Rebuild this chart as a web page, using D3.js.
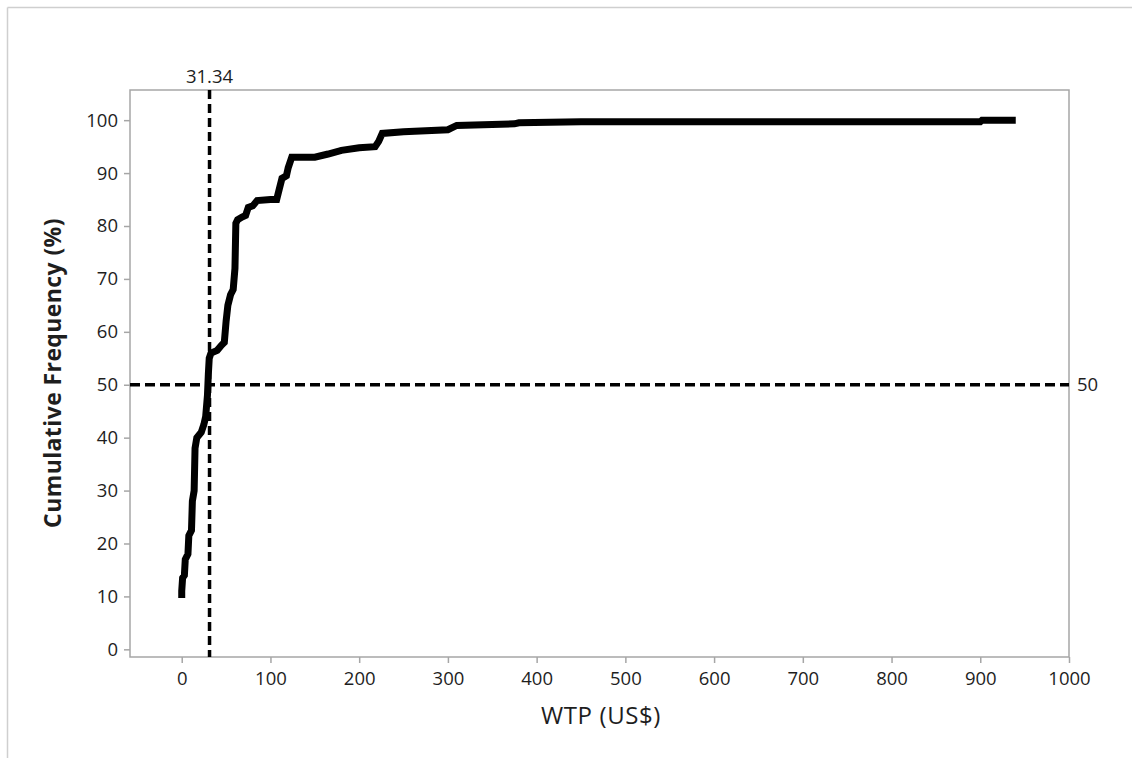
<!DOCTYPE html>
<html>
<head>
<meta charset="utf-8">
<script src="https://cdn.jsdelivr.net/npm/d3@7"></script>
<style>
  html, body { margin: 0; padding: 0; background: #fff; }
  svg { display: block; }
  text { font-family: "Open Sans", "Noto Sans", sans-serif; fill: #1e1e1e; }
</style>
</head>
<body>
<svg id="chart" width="1132" height="758"></svg>
<script>
// Empirical cumulative distribution of willingness to pay
const wtp = [0, 0, 1, 3, 4, 7, 8, 11, 12, 14, 15, 17, 22, 25, 27, 29, 30, 31, 33, 40, 45, 48,
  50, 52, 55, 58, 60, 61, 63, 68, 72, 75, 80, 85, 100, 107, 110, 113, 118, 120, 124, 150,
  165, 180, 200, 218, 222, 226, 250, 300, 310, 375, 380, 450, 900, 902, 940];
const cumFreq = [9.7, 11, 13.5, 14, 17, 18, 21.5, 22.5, 28, 30, 38, 40, 41, 42.5, 44, 48, 52, 55, 56, 56.5, 57.5, 58,
  62, 65, 67, 68, 72, 80.5, 81.2, 81.7, 82, 83.5, 83.8, 84.8, 85, 85, 87, 89, 89.5, 91, 93, 93,
  93.6, 94.3, 94.8, 95, 96, 97.5, 97.8, 98.2, 99, 99.3, 99.5, 99.7, 99.7, 100, 100];

const xTicks = [0, 100, 200, 300, 400, 500, 600, 700, 800, 900, 1000];
const yTicks = [0, 10, 20, 30, 40, 50, 60, 70, 80, 90, 100];

// Reference lines: median WTP and the 50% level
const medianWTP = 31.34;
const halfLevel = 50;

const svg = d3.select("#chart");

const x = d3.scaleLinear().domain([-58.3, 1000]).range([130, 1069]);
const y = d3.scaleLinear().domain([-1.45, 105.7]).range([657, 90]);

// outer panel edges
svg.append("line").attr("x1", 7.5).attr("x2", 1132).attr("y1", 7.5).attr("y2", 7.5)
  .attr("stroke", "#cfcfcf").attr("stroke-width", 1.5);
svg.append("line").attr("x1", 7.5).attr("x2", 7.5).attr("y1", 7.5).attr("y2", 758)
  .attr("stroke", "#cfcfcf").attr("stroke-width", 1.5);

// plot frame
svg.append("rect")
  .attr("x", x.range()[0]).attr("y", y.range()[1])
  .attr("width", x.range()[1] - x.range()[0])
  .attr("height", y.range()[0] - y.range()[1])
  .attr("fill", "none").attr("stroke", "#a6a6a6").attr("stroke-width", 1.5);

// axes
const xAxis = svg.append("g")
  .attr("transform", `translate(0,${y.range()[0]})`)
  .call(d3.axisBottom(x).tickValues(xTicks).tickSize(6).tickPadding(5).tickFormat(d3.format("d")));
const yAxis = svg.append("g")
  .attr("transform", `translate(${x.range()[0]},0)`)
  .call(d3.axisLeft(y).tickValues(yTicks).tickSize(6).tickPadding(6).tickFormat(d3.format("d")));

[xAxis, yAxis].forEach(g => {
  g.select(".domain").remove();
  g.selectAll(".tick line").attr("stroke", "#a6a6a6").attr("stroke-width", 1.5);
  g.selectAll(".tick text").style("font-size", "18.5px").style("font-family", "'Open Sans', sans-serif").attr("fill", "#1e1e1e");
});
xAxis.selectAll(".tick text").attr("dy", "0.9em");

// axis titles
svg.append("text")
  .attr("x", 601).attr("y", 724)
  .attr("text-anchor", "middle")
  .style("font-size", "24px")
  .attr("letter-spacing", "0.6px")
  .text("WTP (US$)");

svg.append("text")
  .attr("transform", `translate(61,373) rotate(-90)`)
  .attr("text-anchor", "middle")
  .style("font-size", "23px").style("font-weight", "bold")
  .attr("letter-spacing", "0.4px")
  .text("Cumulative Frequency (%)");

// reference lines
svg.append("line")
  .attr("x1", x(medianWTP)).attr("x2", x(medianWTP))
  .attr("y1", y.range()[1]).attr("y2", y.range()[0])
  .attr("stroke", "#000").attr("stroke-width", 3.5).attr("stroke-dasharray", "9,5");
svg.append("line")
  .attr("x1", x.range()[0]).attr("x2", x.range()[1])
  .attr("y1", y(halfLevel)).attr("y2", y(halfLevel))
  .attr("stroke", "#000").attr("stroke-width", 3.5).attr("stroke-dasharray", "10,5");

svg.append("text")
  .attr("x", x(medianWTP)).attr("y", 83)
  .attr("text-anchor", "middle")
  .style("font-size", "18.5px")
  .text(d3.format(".2f")(medianWTP));
svg.append("text")
  .attr("x", x.range()[1] + 8).attr("y", y(halfLevel))
  .attr("dy", "0.35em")
  .style("font-size", "18.5px")
  .text(halfLevel);

// cumulative frequency curve
const pts = wtp.map((v, i) => [v, cumFreq[i]]);
svg.append("path")
  .datum(pts)
  .attr("fill", "none")
  .attr("stroke", "#000")
  .attr("stroke-width", 7)
  .attr("stroke-linejoin", "miter")
  .attr("d", d3.line().x(d => x(d[0])).y(d => y(d[1])));
</script>
</body>
</html>
